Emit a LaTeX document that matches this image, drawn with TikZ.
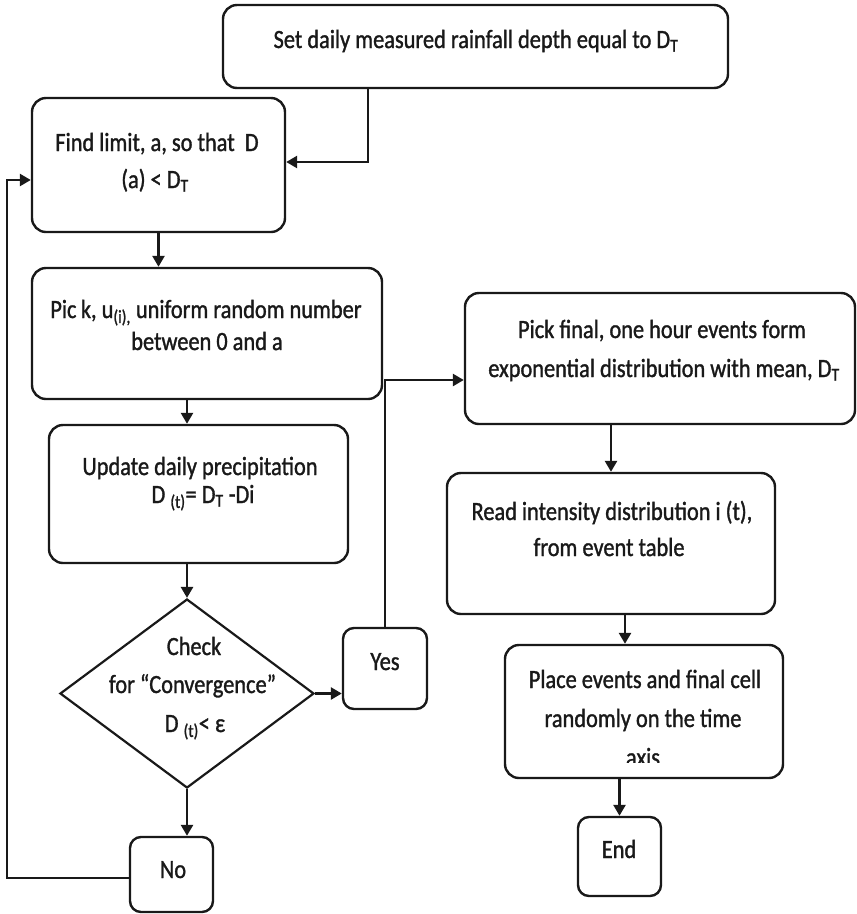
\documentclass[tikz,border=0pt]{standalone}
\usepackage{fontspec}
\setmainfont{Carlito}[FakeStretch=0.85,FakeBold=1.2]
\usetikzlibrary{arrows.meta,shapes.geometric}
\tikzset{
  bx/.style={draw=black!90, line width=2.4pt, rounded corners=14pt, inner sep=0pt, fill=white},
  sbx/.style={draw=black!90, line width=2.4pt, rounded corners=11pt, inner sep=0pt, fill=white},
  tx/.style={anchor=base, inner sep=0pt, text=black!90, font=\fontsize{26.3}{30}\selectfont},
  arr/.style={line width=2.6pt, draw=black!90, -{Triangle[length=11pt,width=12pt]}},
}
\begin{document}
\begin{tikzpicture}[x=1pt,y=-1pt]
\useasboundingbox (0,0) rectangle (857,914);
% boxes
\node[bx, minimum width=505pt, minimum height=83pt] (top) at (475.5,46.5) {};
\node[bx, minimum width=253pt, minimum height=134pt] (find) at (158.5,165) {};
\node[bx, minimum width=350pt, minimum height=131pt] (pick) at (207,333.5) {};
\node[bx, minimum width=299pt, minimum height=138pt] (update) at (198.5,494) {};
\node[draw=black!90, line width=2.2pt, diamond, inner sep=0pt, minimum width=254pt, minimum height=189pt] (dia) at (187,693.5) {};
\node[sbx, minimum width=84pt, minimum height=81pt] (yes) at (385,668.5) {};
\node[sbx, minimum width=83pt, minimum height=75pt] (no) at (171.5,874.5) {};
\node[bx, minimum width=390pt, minimum height=131pt] (pickf) at (660,358.5) {};
\node[bx, minimum width=328pt, minimum height=141pt] (read) at (611,543.5) {};
\node[bx, minimum width=278pt, minimum height=133pt] (place) at (644,711.5) {};
\node[sbx, minimum width=83pt, minimum height=79pt] (end) at (619.5,856.5) {};
% texts
\node[tx] (t1) at (476,48) {Set daily measured rainfall depth equal to D\textsubscript{T}};
\node[tx] (t2a) at (157,151) {Find limit, a, so that~~D};
\node[tx] (t2b) at (155,188) {(a) < D\textsubscript{T}};
\node[tx] (t3a) at (206,318) {Pic\,k, u\textsubscript{(i),} uniform random number};
\node[tx] (t3b) at (207,350) {between 0 and a};
\node[tx] (t4a) at (200,475) {Update daily precipitation};
\node[tx] (t4b) at (203,503) {D \textsubscript{(t)}= D\textsubscript{T} -Di};
\node[tx] (t5a) at (194,655) {Check};
\node[tx] (t5b) at (192.5,693) {for “Convergence”};
\node[tx] (t5c) at (195,732) {D \textsubscript{(t)}< ε};
\node[tx] (t6) at (385,670) {Yes};
\node[tx] (t7) at (173,878) {No};
\node[tx] (t8a) at (662,338) {Pick final, one hour events form};
\node[tx] (t8b) at (664,377) {exponential distribution with mean, D\textsubscript{T}};
\node[tx] (t9a) at (612,520) {Read intensity distribution i (t),};
\node[tx] (t9b) at (609,556) {from event table};
\node[tx] (t10a) at (645,688) {Place events and final cell};
\node[tx] (t10b) at (643,727) {randomly on the time};
\begin{scope}
\clip (505,645) rectangle (783,762);
\node[tx] (t10c) at (643,766) {axis};
\end{scope}
\node[tx] (t11) at (619,858) {End};
% connectors
\coordinate (j1) at (368,162);
\coordinate (j2) at (387,380);
\coordinate (j3) at (7,878);
\coordinate (j4) at (7,180);
\coordinate (j5) at (625,600);
\draw[arr] (top.south -| j1) -- (j1) -- (find.east |- j1);
\draw[arr] (find.south) -- (find.south |- pick.north);
\draw[arr] (pick.south -| dia.north) -- (update.north -| dia.north);
\draw[arr] (update.south -| dia.north) -- (dia.north);
\draw[arr] (dia.east) -- (dia.east -| yes.west);
\draw[arr] (yes.north) -- (yes.north |- j2) -- (pickf.west |- j2);
\draw[arr] (dia.south) -- (dia.south |- no.north);
\draw[arr] (no.west |- j3) -- (j3) -- (j4) -- (find.west |- j4);
\draw[arr] (pickf.south -| read.north) -- (read.north);
\draw[arr] (read.south -| j5) -- (place.north -| j5);
\draw[arr] (place.south -| end.north) -- (end.north);
\end{tikzpicture}
\end{document}
